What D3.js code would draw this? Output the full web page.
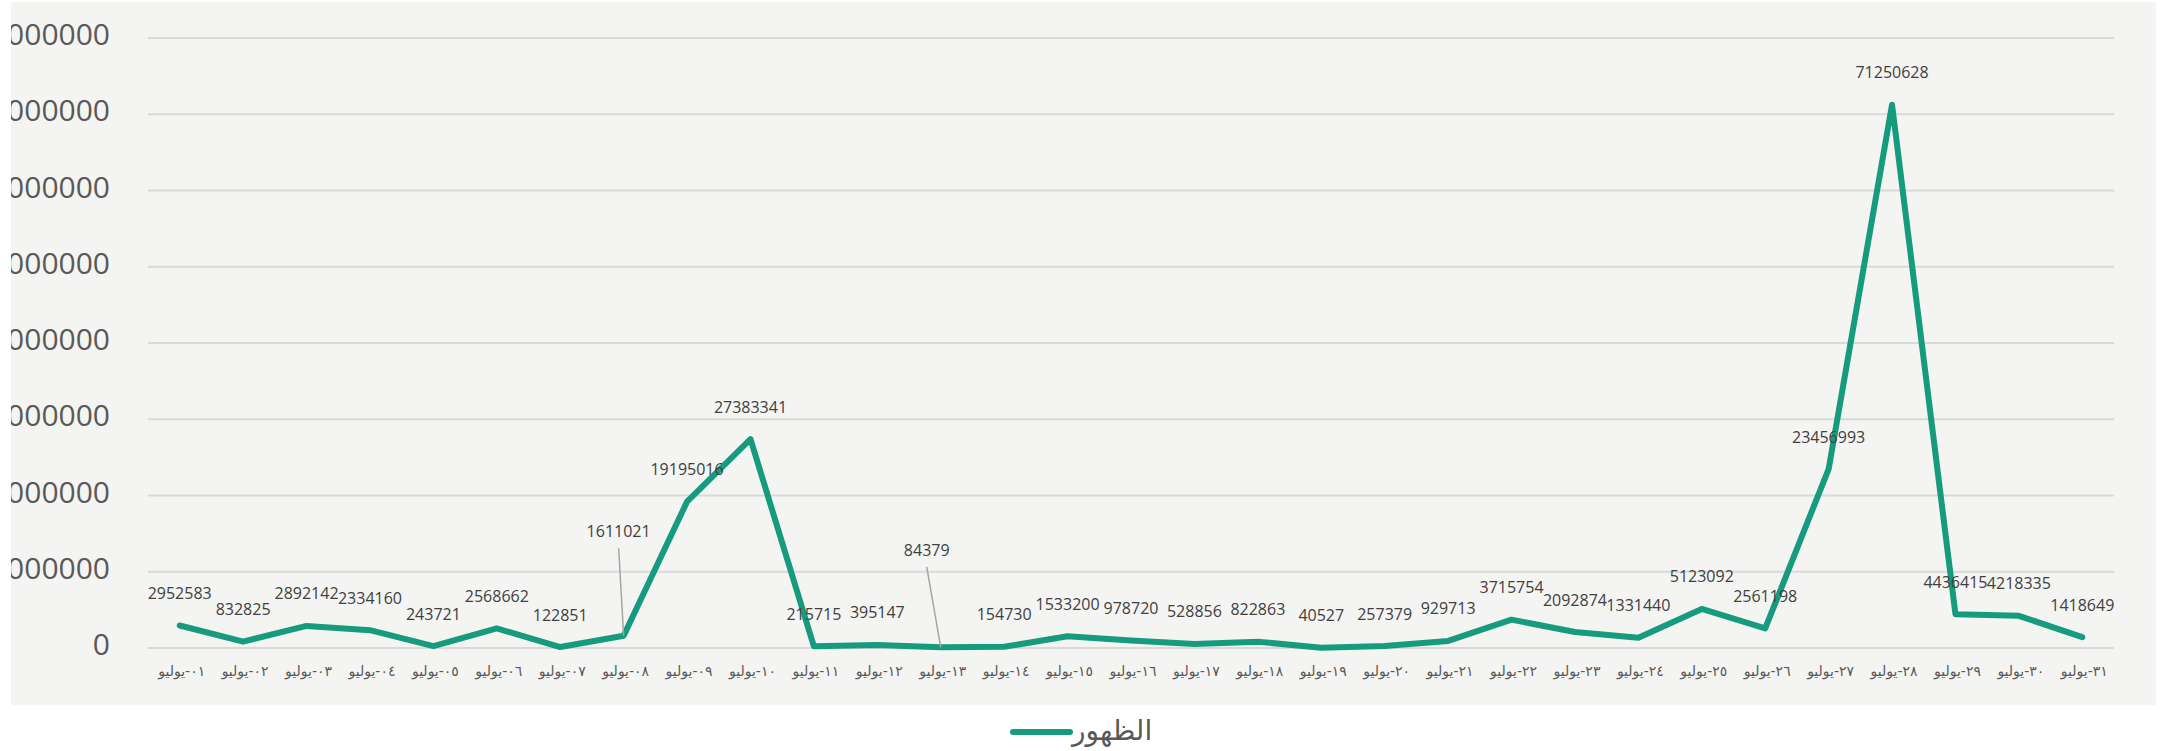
<!DOCTYPE html>
<html>
<head>
<meta charset="utf-8">
<script src="https://cdn.jsdelivr.net/npm/d3@7"></script>
<style>
  html, body { margin:0; padding:0; background:#fff; }
  svg { display:block; }
</style>
</head>
<body>
<svg id="chart" width="2164" height="751"></svg>
<script>

var days = ["٠١","٠٢","٠٣","٠٤","٠٥","٠٦","٠٧","٠٨","٠٩","١٠",
            "١١","١٢","١٣","١٤","١٥","١٦","١٧","١٨","١٩","٢٠",
            "٢١","٢٢","٢٣","٢٤","٢٥","٢٦","٢٧","٢٨","٢٩","٣٠","٣١"];
var month = "يوليو";
var seriesName = "الظهور";

var views = [2952583, 832825, 2892142, 2334160, 243721, 2568662, 122851, 1611021,
             19195016, 27383341, 215715, 395147, 84379, 154730, 1533200, 978720,
             528856, 822863, 40527, 257379, 929713, 3715754, 2092874, 1331440,
             5123092, 2561198, 23456993, 71250628, 4436415, 4218335, 1418649];

var yTicks = [0, 10000000, 20000000, 30000000, 40000000, 50000000, 60000000, 70000000, 80000000];

// labels excel pushed away from the point (index -> offset)
var labelNudge = { 7: {dx:-5, dy:-72, leader:true}, 12: {dx:-14, dy:-65, leader:true} };

var svg = d3.select("#chart");
var teal = "#169b7f";

var panel = {x:11, y:2, w:2145, h:703};
var plot = {left:148, right:2114, top:38, bottom:648};

svg.append("defs").append("clipPath").attr("id","panelClip")
  .append("rect")
  .attr("x",panel.x).attr("y",panel.y).attr("width",panel.w).attr("height",panel.h);

svg.append("rect")
  .attr("x",panel.x).attr("y",panel.y)
  .attr("width",panel.w).attr("height",panel.h)
  .attr("fill","#f4f4f2");

var labels = days.map(function(d){ return d + "-" + month; });

var x = d3.scaleBand().domain(labels).range([plot.left, plot.right]);
var y = d3.scaleLinear().domain([0, 80000000]).range([plot.bottom, plot.top]);

function cx(i){ return x(labels[i]) + x.bandwidth()/2; }

// grid
svg.append("g").selectAll("line")
  .data(yTicks)
  .enter()
  .append("line")
    .attr("x1",plot.left).attr("x2",plot.right)
    .attr("y1",function(d){ return y(d);})
    .attr("y2",function(d){ return y(d);})
    .attr("stroke","#d9d9d9")
    .attr("stroke-width",2);

// y labels (clipped by the panel like the original)
svg.append("g").attr("clip-path","url(#panelClip)")
  .selectAll("text")
  .data(yTicks)
  .enter()
  .append("text")
    .attr("x",110)
    .attr("y",function(d){ return y(d)+7;})
    .attr("text-anchor","end")
    .attr("font-family","'Open Sans', 'Noto Sans', sans-serif")
    .attr("font-size",30)
    .attr("fill","#595959")
    .text(function(d){ return d;});

// x labels
svg.append("g").selectAll("text")
  .data(labels)
  .enter()
  .append("text")
    .attr("x",function(d,i){ return cx(i)+2;})
    .attr("y",676)
    .attr("text-anchor","middle")
    .attr("font-family","'DejaVu Sans', sans-serif")
    .attr("font-size",14)
    .attr("fill","#595959")
    .text(function(d){ return d;});

// line
var line = d3.line()
  .x(function(d,i){ return cx(i);})
  .y(function(d){ return y(d);});

svg.append("path")
  .datum(views)
  .attr("d",line)
  .attr("fill","none")
  .attr("stroke",teal)
  .attr("stroke-width",6)
  .attr("stroke-linejoin","round")
  .attr("stroke-linecap","round");

// data labels
var points = views.map(function(v,i){ return {v:v, i:i, n:labelNudge[i]}; });
function lx(p){ return cx(p.i) + (p.n ? p.n.dx : 0); }
function ly(p){ return y(p.v) - 26.5 + (p.n ? p.n.dy : 0); }

svg.append("g").selectAll("line")
  .data(points.filter(function(p){ return p.n && p.n.leader; }))
  .enter()
  .append("line")
    .attr("x1",lx)
    .attr("y1",function(p){ return ly(p)+11;})
    .attr("x2",function(p){ return cx(p.i);})
    .attr("y2",function(p){ return y(p.v);})
    .attr("stroke","#a6a6a6")
    .attr("stroke-width",1.5);

svg.append("g").selectAll("text")
  .data(points)
  .enter()
  .append("text")
    .attr("x",lx)
    .attr("y",ly)
    .attr("text-anchor","middle")
    .attr("font-family","'Open Sans', 'Noto Sans', sans-serif")
    .attr("font-size",16)
    .attr("fill","#404040")
    .text(function(p){ return p.v;});

// legend
var legend = svg.append("g");
legend.append("line")
  .attr("x1",1013).attr("x2",1070)
  .attr("y1",732).attr("y2",732)
  .attr("stroke",teal)
  .attr("stroke-width",6)
  .attr("stroke-linecap","round");

legend.append("text")
  .attr("x",1072)
  .attr("y",740)
  .attr("text-anchor","start")
  .attr("font-family","'DejaVu Sans', sans-serif")
  .attr("font-size",28)
  .attr("fill","#595959")
  .text(seriesName);

</script>
</body>
</html>
